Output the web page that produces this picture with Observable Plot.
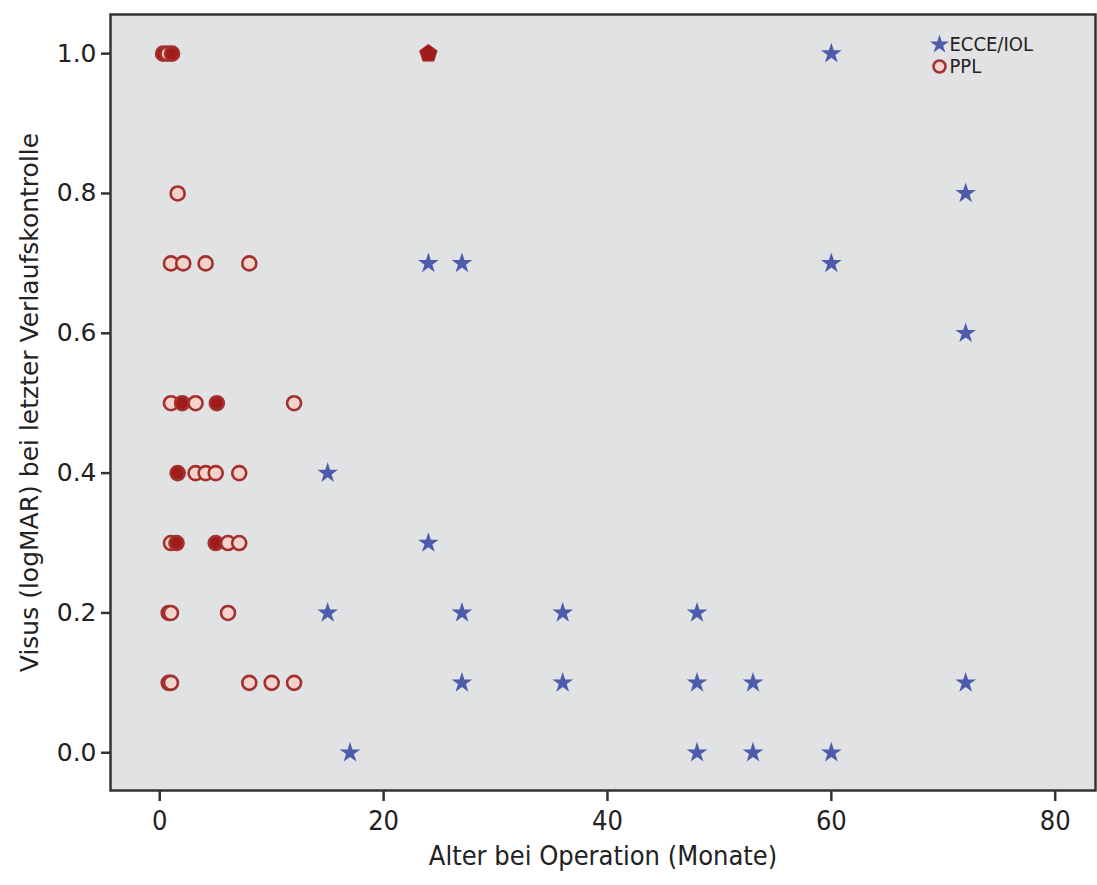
<!DOCTYPE html>
<html><head><meta charset="utf-8">
<script src="https://cdn.jsdelivr.net/npm/d3@7"></script>
<script src="https://cdn.jsdelivr.net/npm/@observablehq/plot@0.6"></script>
<style>body{margin:0;background:#fff}</style>
</head><body><div id="chart"></div>
<script>
// ECCE/IOL group
const ecceAge   = [60, 72, 24, 27, 60, 72, 15, 24, 15, 27, 36, 48, 27, 36, 48, 53, 72, 17, 48, 53, 60];
const ecceVisus = [1.0, 0.8, 0.7, 0.7, 0.7, 0.6, 0.4, 0.3, 0.2, 0.2, 0.2, 0.2, 0.1, 0.1, 0.1, 0.1, 0.1, 0.0, 0.0, 0.0, 0.0];
// PPL group (filled = overlapping markers shown solid)
const pplAge    = [0.3, 0.7, 1.1, 1.6, 1.0, 2.1, 4.1, 8.0, 1.0, 2.0, 3.2, 5.1, 12.0, 1.6, 3.2, 4.1, 5.0, 7.1, 1.0, 1.5, 5.0, 6.1, 7.1, 0.8, 1.0, 6.1, 0.8, 1.0, 8.0, 10.0, 12.0];
const pplVisus  = [1.0, 1.0, 1.0, 0.8, 0.7, 0.7, 0.7, 0.7, 0.5, 0.5, 0.5, 0.5, 0.5, 0.4, 0.4, 0.4, 0.4, 0.4, 0.3, 0.3, 0.3, 0.3, 0.3, 0.2, 0.2, 0.2, 0.1, 0.1, 0.1, 0.1, 0.1];
const pplFilled = [true, false, true, false, false, false, false, false, false, true, false, true, false, true, false, false, false, false, false, true, true, false, false, false, false, false, false, false, false, false, false];
// overlapping marker of both groups
const overlapAge = [24];
const overlapVisus = [1.0];

const xTicks = [0, 20, 40, 60, 80];
const yTicks = [0.0, 0.2, 0.4, 0.6, 0.8, 1.0];
const legendLabels = ["ECCE/IOL", "PPL"];
const xLabel = "Alter bei Operation (Monate)";
const yLabel = "Visus (logMAR) bei letzter Verlaufskontrolle";

const ecce = ecceAge.map((a, i) => ({age: a, visus: ecceVisus[i]}));
const ppl = pplAge.map((a, i) => ({age: a, visus: pplVisus[i], filled: pplFilled[i]}));
const overlap = overlapAge.map((a, i) => ({age: a, visus: overlapVisus[i]}));

const pentagon = {
  draw(ctx, size) {
    const r = Math.sqrt(size / (2.5 * Math.sin(2 * Math.PI / 5)));
    for (let i = 0; i < 5; i++) {
      const a = -Math.PI / 2 + i * 2 * Math.PI / 5;
      const x = r * Math.cos(a), y = r * Math.sin(a);
      if (i) ctx.lineTo(x, y); else ctx.moveTo(x, y);
    }
    ctx.closePath();
  }
};

const narrow = "'Liberation Sans Narrow', 'DejaVu Sans Condensed', 'Roboto Condensed', sans-serif";
const BLUE = "#4c5bab", RED = "#a3302c", PINK = "#f3d3cc", DARKRED = "#a01c1c";

const chart = Plot.plot({
  width: 1097,
  height: 885,
  marginLeft: 110,
  marginRight: 2,
  marginTop: 14,
  marginBottom: 95,
  style: {fontFamily: narrow, fontSize: "26px", background: "#fff", color: "#222"},
  x: {domain: [-4.4, 83.6], ticks: xTicks},
  y: {domain: [-0.054, 1.056], ticks: yTicks},
  marks: [
    Plot.frame({fill: "#e1e2e4", stroke: "none"}),
    Plot.axisX({ticks: xTicks, tickSize: 11, tickPadding: 9, tickFormat: d3.format("d"), fontSize: 27, fontFamily: narrow,
      label: xLabel, labelAnchor: "center", labelArrow: "none", labelOffset: 74, strokeWidth: 2.5, stroke: "#333"}),
    Plot.axisY({ticks: yTicks, tickSize: 9, tickPadding: 5, tickFormat: d3.format(".1f"), fontSize: 25, fontFamily: "DejaVu Sans",
      label: yLabel, labelAnchor: "center", labelArrow: "none", labelOffset: 90, strokeWidth: 2.5, stroke: "#333"}),
    Plot.frame({stroke: "#333", strokeWidth: 2.5}),
    Plot.dot(ppl, {x: "age", y: "visus", r: 7, strokeWidth: 2.6, stroke: RED,
      fill: d => d.filled ? DARKRED : PINK}),
    Plot.dot(ecce, {x: "age", y: "visus", symbol: "star", r: 6.5, fill: BLUE, stroke: "none"}),
    Plot.dot(overlap, {x: "age", y: "visus", symbol: pentagon, r: 8, fill: DARKRED, stroke: RED, strokeWidth: 1}),
    // legend
    Plot.dot([legendLabels[0]], {frameAnchor: "top-right", dx: -156, dy: 30, symbol: "star", r: 6, fill: BLUE}),
    Plot.dot([legendLabels[1]], {frameAnchor: "top-right", dx: -156, dy: 52, r: 6, fill: PINK, stroke: RED, strokeWidth: 2.5}),
    Plot.text([legendLabels[0]], {text: d => d, frameAnchor: "top-right", dx: -146, dy: 30, textAnchor: "start", lineAnchor: "middle", fontSize: 20, fontFamily: narrow, fill: "#222"}),
    Plot.text([legendLabels[1]], {text: d => d, frameAnchor: "top-right", dx: -146, dy: 52, textAnchor: "start", lineAnchor: "middle", fontSize: 20, fontFamily: narrow, fill: "#222"})
  ]
});
document.getElementById("chart").appendChild(chart);
</script>
</body></html>
